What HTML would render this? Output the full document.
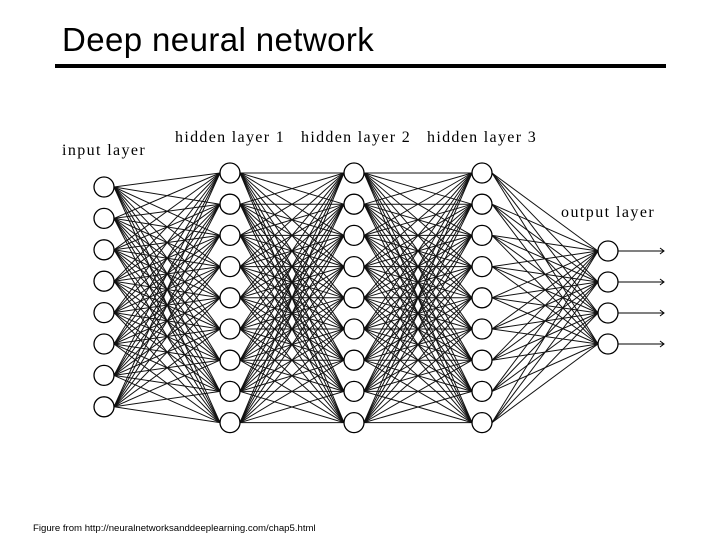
<!DOCTYPE html>
<html><head><style>
body{margin:0;width:720px;height:540px;background:#fff;overflow:hidden;position:relative;font-family:"Liberation Sans",sans-serif}
#t{position:absolute;left:62px;top:21px;font-size:33px;color:#000;letter-spacing:0.4px}
#u{position:absolute;left:55px;top:64px;width:611px;height:4px;background:#000}
#c{position:absolute;left:33px;top:523px;font-size:9.6px}
svg{position:absolute;left:0;top:0}
svg text{font-family:"Liberation Serif",serif;font-size:16px;letter-spacing:1.3px}
</style></head><body>
<div id="t">Deep neural network</div><div id="u"></div>
<svg id="s" width="720" height="540" viewBox="0 0 720 540">
<text x="62" y="155" textLength="84">input layer</text>
<text x="175" y="142" textLength="110">hidden layer 1</text>
<text x="301" y="142" textLength="110">hidden layer 2</text>
<text x="427" y="142" textLength="110">hidden layer 3</text>
<text x="561" y="217" textLength="94">output layer</text>
</svg>
<div id="c">Figure from http://neuralnetworksanddeeplearning.com/chap5.html</div>
<script>
var s=document.getElementById('s'),r=10;
function ys(n,y0,d){var a=[];for(var i=0;i<n;i++)a.push(y0+i*d);return a;}
var L=[[104,ys(8,187,31.4)],[230,ys(9,173,31.2)],[354,ys(9,173,31.2)],[482,ys(9,173,31.2)],[608,ys(4,251,31)]];
var h='';
for(var k=0;k<4;k++){var A=L[k],B=L[k+1];A[1].forEach(function(y1){B[1].forEach(function(y2){h+='<line x1="'+(A[0]+r)+'" y1="'+y1+'" x2="'+(B[0]-r)+'" y2="'+y2+'" stroke="#111" stroke-width="1"/>';});});}
L.forEach(function(l){l[1].forEach(function(y){h+='<circle cx="'+l[0]+'" cy="'+y+'" r="'+r+'" fill="#fff" stroke="#000" stroke-width="1.3"/>';});});
L[4][1].forEach(function(y){h+='<line x1="618" y1="'+y+'" x2="664" y2="'+y+'" stroke="#000"/><path d="M660 '+(y-3)+' L664 '+y+' L660 '+(y+3)+'" fill="none" stroke="#000"/>';});
s.insertAdjacentHTML('beforeend',h);
</script>
</body></html>
